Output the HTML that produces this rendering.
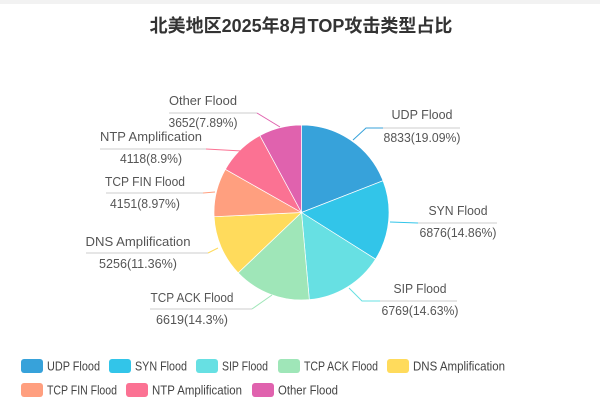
<!DOCTYPE html>
<html><head><meta charset="utf-8"><style>
body{margin:0;background:#fff;}
#c{position:relative;width:600px;height:415px;overflow:hidden;background:#fff;font-family:"Liberation Sans","Noto Sans CJK SC",sans-serif;}
</style></head><body><div id="c">
<div style="position:absolute;left:0;top:0;width:600px;height:4px;background:#f2f2f2"></div>
<svg id="s" width="600" height="415" style="position:absolute;left:0;top:0">
<text x="301" y="32" text-anchor="middle" font-size="18" font-weight="bold" fill="#333" font-family="Liberation Sans,Noto Sans CJK SC,sans-serif">北美地区2025年8月TOP攻击类型占比</text>
</svg>
</div>
<script>
var s=document.getElementById('s'),NS='http://www.w3.org/2000/svg';
function el(t,a,txt){var e=document.createElementNS(NS,t);for(var k in a)e.setAttribute(k,a[k]);if(txt)e.textContent=txt;s.appendChild(e);return e;}
var cols=['#37a2da','#32c5e9','#67e0e3','#9fe6b8','#ffdb5c','#ff9f7f','#fb7293','#e062ae'];
var names=['UDP Flood','SYN Flood','SIP Flood','TCP ACK Flood','DNS Amplification','TCP FIN Flood','NTP Amplification','Other Flood'];
var vals=[8833,6876,6769,6619,5256,4151,4118,3652];
var tot=0;vals.forEach(function(v){tot+=v});
var cx=301.5,cy=212.5,r=87.5,a=0;
vals.forEach(function(v,i){var b=a+v/tot*2*Math.PI;
var x1=cx+r*Math.sin(a),y1=cy-r*Math.cos(a),x2=cx+r*Math.sin(b),y2=cy-r*Math.cos(b);
el('path',{d:'M'+cx+','+cy+'L'+x1+','+y1+'A'+r+','+r+' 0 '+((b-a)>Math.PI?1:0)+' 1 '+x2+','+y2+'Z',fill:cols[i],stroke:'#fff','stroke-width':0.7});a=b;});
var L=[[422,119,128,383,460,142,'353,140 366,128 383,128'],
[458,215,223,418,497,237,'390,222 418,223'],
[420,293,301,380,457,315,'349,288 362,301 380,301'],
[192,302,309,150,252,324,'272,295 252,309'],
[138,246,253,86,208,268,'218,248 208,253'],
[145,186,193,106,203,208,'215,192 203,193'],
[151,141,149,100,206,163,'242,151 206,149'],
[203,105,113,169,257,127,'280,127 257,113']];
var pct=['19.09%','14.86%','14.63%','14.3%','11.36%','8.97%','8.9%','7.89%'];
var NW=[61,59,53,83,105,80,102,68];
var VW=[77,77,77,72,78,70,62,69];
L.forEach(function(l,i){
el('line',{x1:l[3],x2:l[4],y1:l[2],y2:l[2],stroke:'#ddd','stroke-width':1.5});
el('polyline',{points:l[6],fill:'none',stroke:cols[i],'stroke-width':1});
el('text',{x:l[0],y:l[1],'text-anchor':'middle','font-size':12.5,fill:'#555',textLength:NW[i],lengthAdjust:'spacingAndGlyphs'},names[i]);
el('text',{x:l[0],y:l[5],'text-anchor':'middle','font-size':12.5,fill:'#555',textLength:VW[i],lengthAdjust:'spacingAndGlyphs'},vals[i]+'('+pct[i]+')');});
var G=[[21,366],[109,366],[196,366],[278,366],[387,366],[21,390],[126,390],[252,390]];
var GW=[53,52,46,74,92,70,90,60];
G.forEach(function(g,i){el('rect',{x:g[0],y:g[1]-7,width:22,height:14,rx:3,fill:cols[i]});
el('text',{x:g[0]+26,y:g[1]+4.5,'font-size':13,fill:'#444',textLength:GW[i],lengthAdjust:'spacingAndGlyphs'},names[i]);});
</script>
</body></html>
